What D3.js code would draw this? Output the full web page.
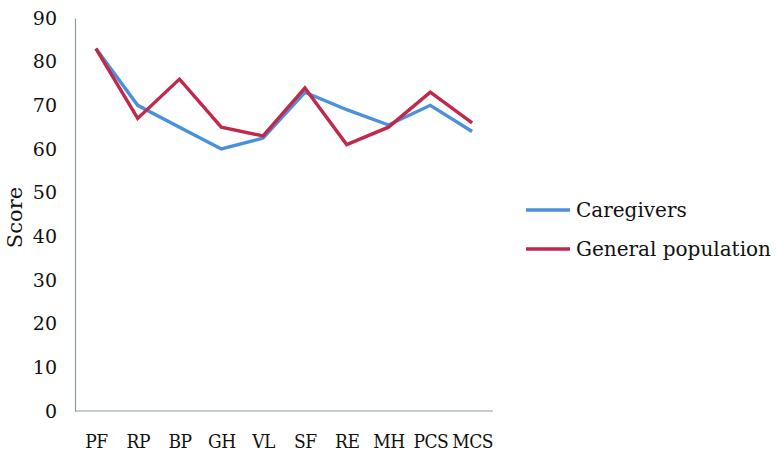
<!DOCTYPE html>
<html>
<head>
<meta charset="utf-8">
<script src="https://cdn.jsdelivr.net/npm/d3@7"></script>
<style>
  body { margin: 0; background: #fff; }
  text { font-family: "DejaVu Serif", serif; fill: #111; }
</style>
</head>
<body>
<div id="chart"></div>
<script>
// SF-36 domains
const categories = ["PF", "RP", "BP", "GH", "VL", "SF", "RE", "MH", "PCS", "MCS"];
const caregivers = [83, 70, 65, 60, 62.5, 73, 69, 65.5, 70, 64];
const generalPopulation = [83, 67, 76, 65, 63, 74, 61, 65, 73, 66];
const yTicks = [0, 10, 20, 30, 40, 50, 60, 70, 80, 90];

const series = [
  { name: "Caregivers", values: caregivers, color: "#4a90db" },
  { name: "General population", values: generalPopulation, color: "#c1294b" }
];

const width = 776, height = 467;
const margin = { top: 18, left: 75, right: 283, bottom: 56 };

const svg = d3.select("#chart").append("svg")
  .attr("width", width)
  .attr("height", height);

const x = d3.scalePoint()
  .domain(categories)
  .range([margin.left, width - margin.right])
  .padding(0.5);

const y = d3.scaleLinear()
  .domain([0, 90])
  .range([height - margin.bottom, margin.top]);

// y axis
const yAxis = svg.append("g")
  .attr("transform", `translate(${margin.left},0)`)
  .call(d3.axisLeft(y).tickValues(yTicks).tickSize(0).tickPadding(18));
yAxis.select(".domain").attr("stroke", "#8c9a9a").attr("stroke-width", 1.2);
yAxis.selectAll("text").style("font-size", "19px").attr("fill", "#111");

// x axis - condensed so PCS / MCS keep a gap
const xAxis = svg.append("g")
  .attr("transform", `translate(0,${height - margin.bottom})`)
  .call(d3.axisBottom(x).tickSize(0).tickPadding(24));
xAxis.select(".domain").attr("stroke", "#8c9a9a").attr("stroke-width", 1.2)
  .attr("d", `M${margin.left},0H${width - margin.right}`);
xAxis.selectAll("text")
  .attr("fill", "#111")
  .style("font-size", "19px")
  .style("font-stretch", "condensed")
  .style("letter-spacing", "-0.5px");

// y axis title
svg.append("text")
  .attr("transform", `translate(22,${(margin.top + height - margin.bottom) / 2 + 3}) rotate(-90)`)
  .attr("text-anchor", "middle")
  .style("font-size", "21px")
  .text("Score");

const line = d3.line()
  .x((d, i) => x(categories[i]))
  .y(d => y(d));

svg.append("g")
  .selectAll("path")
  .data(series)
  .enter()
  .append("path")
  .attr("d", d => line(d.values))
  .attr("fill", "none")
  .attr("stroke", d => d.color)
  .attr("stroke-width", 3.4)
  .attr("stroke-linejoin", "miter");

// legend
const legend = svg.append("g")
  .selectAll("g")
  .data(series)
  .enter()
  .append("g")
  .attr("transform", (d, i) => `translate(526,${210 + i * 39})`);
legend.append("line")
  .attr("x1", 0).attr("x2", 44)
  .attr("stroke", d => d.color)
  .attr("stroke-width", 3.5);
legend.append("text")
  .attr("x", 50)
  .attr("dy", "0.35em")
  .style("font-size", "20px")
  .text(d => d.name);
</script>
</body>
</html>
